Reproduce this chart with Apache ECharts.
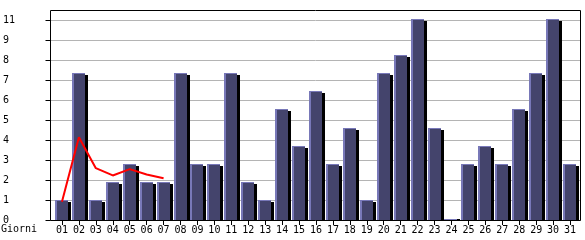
<!DOCTYPE html>
<html>
<head>
<meta charset="utf-8">
<script src="https://cdn.jsdelivr.net/npm/echarts@6/dist/echarts.min.js"></script>
<style>
html,body{margin:0;padding:0;background:#fff;}
#c{width:585px;height:240px;}
</style>
</head>
<body>
<div id="c"></div>
<script>
// Data
var days = ['01','02','03','04','05','06','07','08','09','10','11','12','13','14','15','16','17','18','19','20','21','22','23','24','25','26','27','28','29','30','31'];
var visits = [1,8,1,2,3,2,2,8,3,3,8,2,1,6,4,7,3,5,1,8,9,11,5,0,3,4,3,6,8,11,3];
var trendDays = ['01','02','03','04','05','06','07'];
var trend = [1.0,4.55,2.85,2.45,2.8,2.5,2.3];
var yMax = 11;
var yStep = 1.1;
var xName = 'Giorni';

var FONT = 'DejaVu Sans Mono';
var chart = echarts.init(document.getElementById('c'), null, {renderer:'canvas'});

var barData = visits.map(function(v,i){ return [i, v]; });

chart.setOption({
  animation:false,
  backgroundColor:'#ffffff',
  grid:[
    {left:53.5, right:6.5, top:20, bottom:20},
    {left:50.5, right:4.5, top:20, bottom:20}
  ],
  xAxis:[
    {gridIndex:0, type:'category', data:days, boundaryGap:true,
     axisLine:{show:false},
     axisTick:{show:true, alignWithLabel:true, length:5, lineStyle:{color:'#000'}},
     axisLabel:{color:'#000', fontFamily:FONT, fontSize:10, margin:5, interval:0},
     splitLine:{show:false}},
    {gridIndex:1, type:'value', show:false, min:0, max:1}
  ],
  yAxis:[
    {gridIndex:0, type:'value', min:0, max:yMax, show:false},
    {gridIndex:1, type:'value', min:0, max:yMax, interval:yStep,
     axisLine:{show:false},
     axisTick:{show:true, length:5, lineStyle:{color:'#000'}},
     axisLabel:{color:'#000', fontFamily:FONT, fontSize:10, align:'left', margin:47.5,
       formatter:function(v){ return String(Math.floor(v + 1e-6)); }},
     splitLine:{show:true, lineStyle:{color:'#b4b4b4', width:1}}}
  ],
  series:[
    {type:'custom', xAxisIndex:0, yAxisIndex:0, data:barData, z:3,
     renderItem:function(params, api){
       var i = api.value(0), v = api.value(1);
       var top = api.coord([i, v]);
       var base = api.coord([i, 0]);
       var cx = Math.round(top[0]);
       var yb = Math.round(base[1]);
       var yt = Math.round(top[1] - 1.5);
       var h = yb - yt;
       var children = [];
       // shadow
       children.push({type:'rect', shape:{x:cx+6, y:Math.min(yt+2, yb-1), width:3, height:Math.max(yb-(yt+2),1)}, style:{fill:'#000000'}});
       // body
       children.push({type:'rect', shape:{x:cx-7, y:yt, width:13, height:h}, style:{fill:'#44446c'}});
       // left highlight
       children.push({type:'rect', shape:{x:cx-7, y:yt, width:2, height:h}, style:{fill:'#7878b8'}});
       // top highlight
       children.push({type:'rect', shape:{x:cx-7, y:yt, width:13, height:1}, style:{fill:'#7878b8'}});
       return {type:'group', children:children};
     }},
    {type:'line', xAxisIndex:0, yAxisIndex:0, data:trend, z:5, symbol:'none', smooth:false,
     lineStyle:{color:'#ff0000', width:2}, itemStyle:{color:'#ff0000'}}
  ],
  graphic:[
    {type:'rect', z:10, shape:{x:50.5, y:10.5, width:530, height:210}, style:{fill:null, stroke:'#000', lineWidth:1}},
    {type:'text', z:10, left:1, top:224, style:{text:xName, fontFamily:FONT, fontSize:10, fill:'#000'}}
  ]
});
</script>
</body>
</html>
